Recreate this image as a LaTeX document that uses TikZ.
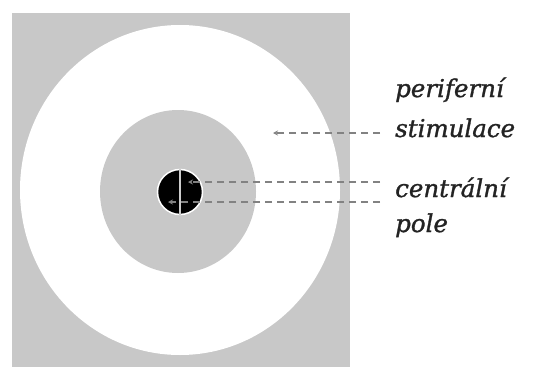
\documentclass[tikz,border=0pt]{standalone}
\usepackage{fontspec}
\setmainfont{DejaVu Serif}
\newfontfamily\lblfont[FakeBold=1.2]{DejaVu Serif}
\usetikzlibrary{arrows.meta}
\definecolor{bggray}{RGB}{200,200,200}
\definecolor{dashgray}{RGB}{130,130,130}
\definecolor{txtgray}{RGB}{35,35,35}
\begin{document}
\begin{tikzpicture}[x=1pt,y=-1pt,
  lbl/.style={anchor=base west,inner sep=0pt,font=\lblfont\fontsize{24.5}{28}\selectfont\itshape,text=txtgray},
  pointer/.style={draw=dashgray,line width=1.8pt,dash pattern=on 7pt off 5pt,-{Stealth[length=5pt,width=5pt]}},
  leader/.style={draw=dashgray,line width=1.8pt,dash pattern=on 7pt off 5pt}]
\useasboundingbox (0,0) rectangle (546,367);
\fill[white] (0,0) rectangle (546,367);
% background square
\fill[bggray] (12,13) rectangle (350,367);
% white ring
\fill[white] (180,190) ellipse [x radius=160, y radius=165];
% grey centre disc
\fill[bggray] (178,191.5) ellipse [x radius=78, y radius=81.5];
% black central field
\node[circle,fill=black,draw=white,line width=1.5pt,minimum size=45pt,inner sep=0pt] (cp) at (180,192) {};
\draw[white!80!black,line width=1.2pt] (cp.north) -- (cp.south);
% labels
\node[lbl] (per) at (395,97) {periferní};
\node[lbl] (stim) at (395,137) {stimulace};
\node[lbl] (cen) at (395,197) {centrální};
\node[lbl] (pole) at (395,232) {pole};
% connectors
\coordinate (sA) at (380,133);
\coordinate (sB) at (273,133);
\draw[pointer] (sA) -- (sB);
\coordinate (cA) at (380,182);
\coordinate (cB) at (188,182);
\coordinate (dA) at (380,202);
\coordinate (dB) at (168,202);
\draw[pointer] (cA) -- (cB);
\draw[pointer] (dA) -- (dB);
\end{tikzpicture}
\end{document}
